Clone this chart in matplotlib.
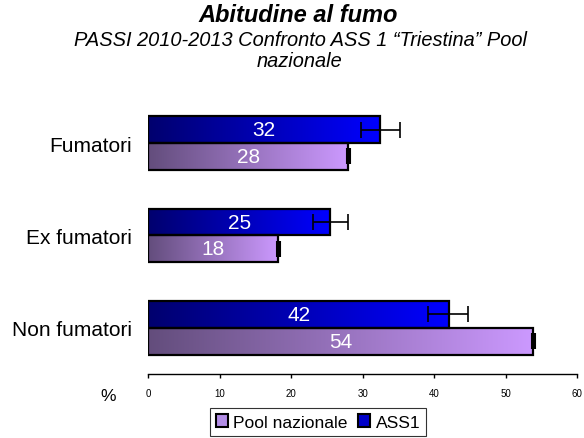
import matplotlib
matplotlib.use('Agg')
import matplotlib.pyplot as plt
import numpy as np
from matplotlib.colors import LinearSegmentedColormap
from matplotlib.patches import Rectangle

plt.rcParams['font.family'] = ['Liberation Sans', 'DejaVu Sans']

# data
categories = ['Fumatori', 'Ex fumatori', 'Non fumatori']
ass1 = [32.4, 25.4, 42.1]
ass1_lo = [29.8, 23.0, 39.1]
ass1_hi = [35.2, 28.0, 44.8]
pool = [28.0, 18.2, 53.9]
pool_lo = [27.8, 18.0, 53.7]
pool_hi = [28.2, 18.4, 54.1]
x_ticks = [0, 10, 20, 30, 40, 50, 60]

cmap_ass1 = LinearSegmentedColormap.from_list('ass1', ['#00006e', '#0000ff'])
cmap_pool = LinearSegmentedColormap.from_list('pool', ['#634d7c', '#cc99ff'])

fig = plt.figure(figsize=(5.84, 4.39), dpi=100)
ax = fig.add_axes([0.254, 0.146, 0.734, 0.631])

h = 0.29
ypos = [2, 1, 0]
grad = np.linspace(0, 1, 256).reshape(1, -1)

def gradient_bar(v, y0, cmap):
    ax.imshow(grad, extent=[0, v, y0, y0 + h], aspect='auto', cmap=cmap,
              origin='lower', zorder=2, interpolation='bilinear')
    ax.add_patch(Rectangle((0, y0), v, h, facecolor='none', edgecolor='black',
                           linewidth=1.6, zorder=3))

for i, y in enumerate(ypos):
    gradient_bar(ass1[i], y, cmap_ass1)
    gradient_bar(pool[i], y - h, cmap_pool)
    ax.errorbar(ass1[i], y + h / 2,
                xerr=[[ass1[i] - ass1_lo[i]], [ass1_hi[i] - ass1[i]]],
                fmt='none', ecolor='black', elinewidth=1.2, capsize=5.5,
                capthick=1.2, zorder=4)
    ax.errorbar(pool[i], y - h / 2,
                xerr=[[pool[i] - pool_lo[i]], [pool_hi[i] - pool[i]]],
                fmt='none', ecolor='black', elinewidth=2.5, capsize=5.5,
                capthick=1.5, zorder=4)
    ax.text(ass1[i] / 2, y + h / 2, '{:.0f}'.format(ass1[i]), color='white',
            ha='center', va='center', fontsize=15, zorder=5)
    ax.text(pool[i] / 2, y - h / 2, '{:.0f}'.format(pool[i]), color='white',
            ha='center', va='center', fontsize=15, zorder=5)

ax.set_xlim(0, 60)
ax.set_ylim(-0.5, 2.5)
ax.set_xticks(x_ticks)
ax.set_xticklabels([str(t) for t in x_ticks], fontsize=7)
ax.set_yticks(ypos)
ax.set_yticklabels(categories, fontsize=15)
ax.tick_params(axis='y', length=0, pad=12)
ax.tick_params(axis='x', length=3, width=1, direction='out', pad=7)
for s in ['top', 'right', 'left']:
    ax.spines[s].set_visible(False)
ax.spines['bottom'].set_linewidth(1)

fig.text(108 / 584, 1 - 397 / 439, '%', fontsize=12.5, ha='center', va='center')

fig.text(298 / 584, 1 - 16 / 439, 'Abitudine al fumo', fontsize=17,
         fontweight='bold', fontstyle='italic', ha='center', va='center')
fig.text(300 / 584, 1 - 51 / 439,
         'PASSI 2010-2013 Confronto ASS 1 \u201cTriestina\u201d Pool\nnazionale',
         fontsize=14.4, fontstyle='italic', ha='center', va='center',
         linespacing=1.15)

handles = [Rectangle((0, 0), 1, 1, facecolor='#b38ee6', edgecolor='black', linewidth=1.5),
           Rectangle((0, 0), 1, 1, facecolor='#0000c8', edgecolor='black', linewidth=1.5)]
leg = fig.legend(handles, ['Pool nazionale', 'ASS1'], loc='center',
                 bbox_to_anchor=(318 / 584, 1 - 423 / 439), ncol=2, fontsize=12.6,
                 frameon=True, fancybox=False, edgecolor='black',
                 handlelength=0.7, handleheight=0.7, handletextpad=0.3,
                 columnspacing=0.6, borderpad=0.35, borderaxespad=0)
leg.get_frame().set_linewidth(0.8)

fig.savefig('out.png', dpi=100)
